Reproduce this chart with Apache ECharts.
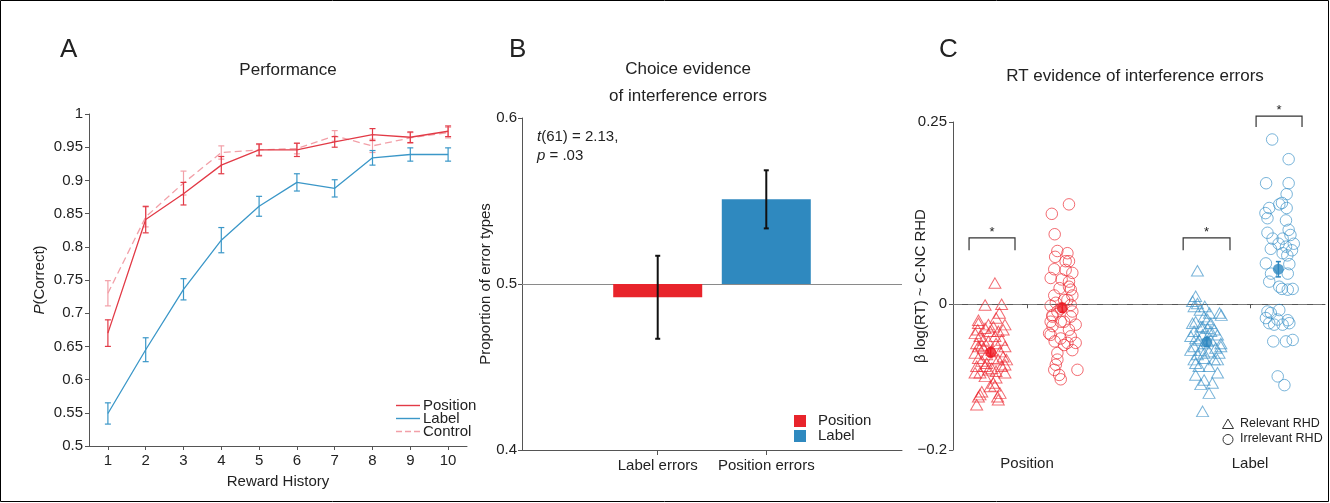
<!DOCTYPE html>
<html><head><meta charset="utf-8">
<script src="https://cdn.jsdelivr.net/npm/echarts@6/dist/echarts.min.js"></script>
<style>html,body{margin:0;padding:0;background:#fff}#c{width:1330px;height:503px}</style>
</head><body><div id="c"></div><script>
// ---------- Panel A data ----------
const rewardHistory = ['1','2','3','4','5','6','7','8','9','10'];
const positionMean = [0.670, 0.841, 0.880, 0.923, 0.946, 0.946, 0.958, 0.969, 0.965, 0.974];
const positionErr  = [0.020, 0.020, 0.017, 0.013, 0.009, 0.010, 0.008, 0.009, 0.008, 0.008];
const labelMean    = [0.549, 0.645, 0.736, 0.810, 0.861, 0.897, 0.888, 0.934, 0.939, 0.939];
const labelErr     = [0.016, 0.018, 0.016, 0.019, 0.015, 0.013, 0.013, 0.011, 0.010, 0.010];
const controlMean  = [0.730, 0.845, 0.896, 0.942, 0.946, 0.948, 0.967, 0.952, 0.964, 0.972];
const controlErr   = [0.019, 0.015, 0.018, 0.010, 0.008, 0.008, 0.008, 0.010, 0.008, 0.008];

// ---------- Panel B data ----------
const errorTypes = ['Label errors', 'Position errors'];
const proportion = [0.492, 0.551];
const proportionErr = [0.025, 0.0175];
const chanceLevel = 0.5;
const xCatsB = ['', '', errorTypes[0], '', errorTypes[1], '', ''];

// ---------- Panel C data ----------
const groupNames = ['Position', 'Label'];
const posRelevant = [[0.856,0.029],[0.812,-0.001],[0.886,0.000],[0.876,-0.012],[0.861,-0.019],[0.782,-0.022],[0.901,-0.028],[0.849,-0.031],[0.812,-0.033],[0.779,-0.035],[0.871,-0.037],[0.789,-0.044],[0.886,-0.049],[0.774,-0.054],[0.861,-0.054],[0.804,-0.060],[0.827,-0.051],[0.893,-0.072],[0.782,-0.074],[0.871,-0.076],[0.819,-0.081],[0.901,-0.083],[0.774,-0.085],[0.842,-0.088],[0.861,-0.092],[0.789,-0.094],[0.812,-0.099],[0.849,-0.108],[0.856,-0.112],[0.797,-0.120],[0.879,-0.122],[0.782,-0.127],[0.871,-0.131],[0.774,-0.138],[0.767,-0.040],[0.834,-0.037],[0.856,-0.044],[0.797,-0.056],[0.842,-0.063],[0.879,-0.065],[0.767,-0.067],[0.819,-0.069],[0.849,-0.074],[0.908,-0.076],[0.797,-0.078],[0.886,-0.085],[0.827,-0.090],[0.767,-0.094],[0.861,-0.101],[0.834,-0.113],[0.789,-0.124],[0.868,-0.127],[0.782,-0.026],[0.827,-0.028],[0.893,-0.035],[0.804,-0.049],[0.901,-0.058],[0.782,-0.058],[0.812,-0.085],[0.901,-0.094]];
const posIrrelevant = [[1.188,0.137],[1.111,0.124],[1.124,0.096],[1.136,0.073],[1.181,0.070],[1.126,0.065],[1.188,0.059],[1.122,0.048],[1.173,0.047],[1.203,0.043],[1.106,0.036],[1.155,0.034],[1.188,0.031],[1.146,0.022],[1.196,0.020],[1.203,0.012],[1.181,0.006],[1.129,0.002],[1.196,-0.001],[1.106,-0.002],[1.151,-0.006],[1.114,-0.015],[1.196,-0.017],[1.106,-0.024],[1.151,-0.024],[1.218,-0.028],[1.114,-0.030],[1.188,-0.035],[1.106,-0.042],[1.151,-0.047],[1.196,-0.044],[1.218,-0.053],[1.124,-0.051],[1.166,-0.056],[1.136,-0.067],[1.203,-0.063],[1.136,-0.076],[1.226,-0.090],[1.129,-0.083],[1.122,-0.090],[1.144,-0.097],[1.151,-0.103],[1.166,0.006],[1.203,-0.010],[1.122,0.012],[1.166,-0.024],[1.099,-0.040],[1.181,-0.053],[1.136,-0.010],[1.188,0.024],[1.173,0.059],[1.114,-0.017]];
const labRelevant = [[1.764,0.046],[1.756,0.011],[1.742,0.004],[1.764,0.001],[1.749,-0.003],[1.797,-0.003],[1.776,-0.008],[1.818,-0.012],[1.863,-0.012],[1.794,-0.017],[1.756,-0.024],[1.824,-0.026],[1.779,-0.031],[1.809,-0.033],[1.749,-0.037],[1.824,-0.037],[1.787,-0.042],[1.854,-0.042],[1.756,-0.047],[1.824,-0.049],[1.794,-0.054],[1.869,-0.054],[1.749,-0.058],[1.846,-0.060],[1.779,-0.063],[1.816,-0.065],[1.764,-0.069],[1.861,-0.067],[1.794,-0.074],[1.839,-0.076],[1.756,-0.081],[1.771,-0.085],[1.854,-0.094],[1.756,-0.097],[1.794,-0.104],[1.831,-0.108],[1.779,-0.110],[1.816,-0.122],[1.787,-0.147],[1.734,-0.044],[1.809,-0.051],[1.734,-0.063],[1.794,-0.067],[1.854,-0.076],[1.749,-0.076],[1.816,-0.085],[1.869,-0.058],[1.787,-0.031],[1.839,-0.035],[1.771,-0.049],[1.742,-0.026],[1.809,-0.021],[1.871,-0.015]];
const labIrrelevant = [[2.099,0.226],[2.173,0.199],[2.072,0.166],[2.173,0.166],[2.164,0.151],[2.131,0.137],[2.143,0.139],[2.086,0.132],[2.164,0.132],[2.069,0.125],[2.078,0.118],[2.161,0.115],[2.078,0.098],[2.173,0.102],[2.101,0.090],[2.146,0.090],[2.181,0.095],[2.196,0.083],[2.128,0.083],[2.093,0.076],[2.161,0.079],[2.188,0.074],[2.146,0.070],[2.167,0.067],[2.094,0.042],[2.169,0.042],[2.086,0.031],[2.131,0.024],[2.169,0.020],[2.191,0.021],[2.143,0.021],[2.078,-0.010],[2.093,-0.012],[2.131,-0.008],[2.071,-0.019],[2.123,-0.021],[2.169,-0.022],[2.086,-0.026],[2.108,-0.028],[2.146,-0.028],[2.176,-0.026],[2.104,-0.051],[2.161,-0.051],[2.191,-0.049],[2.124,-0.099],[2.154,-0.111],[2.071,0.056],[2.176,0.055]];
const groupCenters = [0.837, 1.158, 1.806, 2.127];
const meanRT = [-0.066, -0.005, -0.052, 0.048];
const meanRTErr = [0.006, 0.006, 0.006, 0.0105];
// brackets: [xLeft, xRight, yTop, yEnd]
const brackets = [[0.740, 0.946, 0.091, 0.074], [1.700, 1.910, 0.091, 0.074], [2.027, 2.233, 0.258, 0.243]];

// ---------- styles ----------
const FONT = '"Liberation Sans", Arial, Helvetica, sans-serif';
const TXT = '#222';
const AX = '#555';
const colPos = '#e23a46', colLab = '#3b97c8', colCtl = '#f2a0a8';
const redBar = '#e8242b', blueBar = '#2f89bf';
const redPt = 'rgba(236,40,48,0.85)', bluePt = 'rgba(58,145,200,0.85)';
const redMean = '#ee1c25', blueMean = '#2f88c0';

function errRender(color, lw, cap) {
  return function (params, api) {
    const x = api.value(0), m = api.value(1), e = api.value(2);
    const t = api.coord([x, m + e]), b = api.coord([x, m - e]);
    const st = { stroke: color, lineWidth: lw };
    return { type: 'group', children: [
      { type: 'line', shape: { x1: t[0], y1: t[1], x2: b[0], y2: b[1] }, style: st },
      { type: 'line', shape: { x1: t[0] - cap, y1: t[1], x2: t[0] + cap, y2: t[1] }, style: st },
      { type: 'line', shape: { x1: b[0] - cap, y1: b[1], x2: b[0] + cap, y2: b[1] }, style: st }
    ]};
  };
}
function barRender(color) {
  return function (params, api) {
    const x = api.value(0), v = api.value(1), e = api.value(2);
    const p0 = api.coord([x, chanceLevel]), p1 = api.coord([x, v]);
    const hw = 44.5;
    const t = api.coord([x, v + e]), b = api.coord([x, v - e]);
    const st = { stroke: '#111', lineWidth: 2 };
    return { type: 'group', children: [
      { type: 'rect', shape: { x: p0[0] - hw, y: Math.min(p0[1], p1[1]), width: 2 * hw, height: Math.abs(p1[1] - p0[1]) }, style: { fill: color } },
      { type: 'line', shape: { x1: t[0], y1: t[1], x2: b[0], y2: b[1] }, style: st },
      { type: 'line', shape: { x1: t[0] - 2.5, y1: t[1], x2: t[0] + 2.5, y2: t[1] }, style: st },
      { type: 'line', shape: { x1: b[0] - 2.5, y1: b[1], x2: b[0] + 2.5, y2: b[1] }, style: st }
    ]};
  };
}
function zip3(a, b, c) { return a.map((v, i) => [i, b[i], c[i]]); }

const tickStyle = { fontSize: 15, color: TXT, fontFamily: FONT };
const axLine = { show: true, lineStyle: { color: AX, width: 1 } };
const axTick = { show: true, length: 4, lineStyle: { color: AX } };
const nameStyle = { fontSize: 15, color: TXT, fontFamily: FONT };

const option = {
  animation: false,
  backgroundColor: '#fff',
  textStyle: { fontFamily: FONT },
  title: [
    { text: 'A', left: 55, top: 32, textStyle: { fontSize: 26, fontWeight: 'normal', color: TXT, fontFamily: FONT } },
    { text: 'B', left: 504, top: 32, textStyle: { fontSize: 26, fontWeight: 'normal', color: TXT, fontFamily: FONT } },
    { text: 'C', left: 934, top: 32, textStyle: { fontSize: 26, fontWeight: 'normal', color: TXT, fontFamily: FONT } },
    { text: 'Performance', left: 283, top: 57, textAlign: 'center', textStyle: { fontSize: 17, fontWeight: 'normal', color: TXT, fontFamily: FONT } },
    { text: 'Choice evidence\nof interference errors', left: 683, top: 51, textAlign: 'center', textStyle: { fontSize: 17, fontWeight: 'normal', color: TXT, fontFamily: FONT, lineHeight: 27 } },
    { text: 'RT evidence of interference errors', left: 1130, top: 63, textAlign: 'center', textStyle: { fontSize: 17, fontWeight: 'normal', color: TXT, fontFamily: FONT } }
  ],
  legend: [{
    data: [
      { name: 'Position', icon: 'path://M0 0H24V1.4H0Z' },
      { name: 'Label', icon: 'path://M0 0H24V1.4H0Z' },
      { name: 'Control', icon: 'path://M0 0H6V1.4H0Z M9 0H15V1.4H9Z M18 0H24V1.4H18Z' }
    ],
    orient: 'vertical', left: 396, top: 398, padding: 0,
    itemWidth: 24, itemHeight: 1.4, itemGap: -2,
    textStyle: { fontSize: 15, color: TXT, fontFamily: FONT, padding: [0, 0, 0, -2] },
    selectedMode: false
  }],
  grid: [
    { left: 89, top: 114, width: 378, height: 332 },
    { left: 522, top: 118, width: 380, height: 332 },
    { left: 953, top: 122, width: 372, height: 328 }
  ],
  xAxis: [
    { type: 'category', gridIndex: 0, data: rewardHistory, boundaryGap: true,
      axisLine: axLine, axisTick: Object.assign({ alignWithLabel: true }, axTick),
      axisLabel: Object.assign({ margin: 7 }, tickStyle), splitLine: { show: false },
      name: 'Reward History', nameLocation: 'middle', nameGap: 28, nameMoveOverlap: false,
      nameTextStyle: nameStyle },
    { type: 'category', gridIndex: 1, data: xCatsB, boundaryGap: true,
      axisLine: axLine,
      axisTick: { show: true, length: 5, alignWithLabel: true, interval: (i, v) => v !== '', lineStyle: { color: AX } },
      axisLabel: Object.assign({ margin: 8, interval: 0 }, tickStyle), splitLine: { show: false } },
    { type: 'value', gridIndex: 2, min: 0.668, max: 2.336,
      axisLine: axLine, axisTick: Object.assign({ customValues: [1, 2] }, axTick),
      axisLabel: Object.assign({ margin: 6, customValues: [1, 2], formatter: v => groupNames[Math.round(v) - 1] }, tickStyle),
      splitLine: { show: false } }
  ],
  yAxis: [
    { type: 'value', gridIndex: 0, min: 0.5, max: 1, interval: 0.05,
      axisLine: axLine, axisTick: axTick, axisLabel: Object.assign({ margin: 6 }, tickStyle), splitLine: { show: false },
      name: '{i|P}(Correct)', nameLocation: 'middle', nameGap: 42, nameMoveOverlap: false,
      nameTextStyle: Object.assign({ rich: { i: { fontStyle: 'italic', fontSize: 15, color: TXT, fontFamily: FONT } } }, nameStyle) },
    { type: 'value', gridIndex: 1, min: 0.4, max: 0.6, interval: 0.1,
      axisLine: axLine, axisTick: axTick, axisLabel: Object.assign({ margin: 5 }, tickStyle), splitLine: { show: false },
      name: 'Proportion of error types', nameLocation: 'middle', nameGap: 29, nameMoveOverlap: false,
      nameTextStyle: nameStyle },
    { type: 'value', gridIndex: 2, min: -0.2, max: 0.25,
      axisLine: axLine, axisTick: Object.assign({ customValues: [-0.2, 0, 0.25] }, axTick),
      axisLabel: Object.assign({ margin: 6, customValues: [-0.2, 0, 0.25], formatter: v => (v < 0 ? '\u2212' + String(-v) : String(v)) }, tickStyle),
      splitLine: { show: false },
      name: '\u03b2 log(RT) ~ C-NC RHD', nameLocation: 'middle', nameGap: 25, nameMoveOverlap: false,
      nameTextStyle: nameStyle }
  ],
  series: [
    // Panel A
    { name: 'Position', type: 'line', xAxisIndex: 0, yAxisIndex: 0, data: positionMean, symbol: 'none',
      lineStyle: { color: colPos, width: 1.3 }, itemStyle: { color: colPos }, z: 4 },
    { name: 'Label', type: 'line', xAxisIndex: 0, yAxisIndex: 0, data: labelMean, symbol: 'none',
      lineStyle: { color: colLab, width: 1.3 }, itemStyle: { color: colLab }, z: 4 },
    { name: 'Control', type: 'line', xAxisIndex: 0, yAxisIndex: 0, data: controlMean, symbol: 'none',
      lineStyle: { color: colCtl, width: 1.3, type: [7, 4] }, itemStyle: { color: colCtl }, z: 3 },
    { name: 'PositionSE', type: 'custom', xAxisIndex: 0, yAxisIndex: 0, data: zip3(rewardHistory, positionMean, positionErr), renderItem: errRender(colPos, 1.2, 3), z: 4 },
    { name: 'LabelSE', type: 'custom', xAxisIndex: 0, yAxisIndex: 0, data: zip3(rewardHistory, labelMean, labelErr), renderItem: errRender(colLab, 1.2, 3), z: 4 },
    { name: 'ControlSE', type: 'custom', xAxisIndex: 0, yAxisIndex: 0, data: zip3(rewardHistory, controlMean, controlErr), renderItem: errRender(colCtl, 1.2, 3), z: 3 },
    // Panel B
    { name: 'B Position', type: 'custom', xAxisIndex: 1, yAxisIndex: 1,
      data: [[xCatsB.indexOf(errorTypes[0]), proportion[0], proportionErr[0]]], renderItem: barRender(redBar), z: 2 },
    { name: 'B Label', type: 'custom', xAxisIndex: 1, yAxisIndex: 1,
      data: [[xCatsB.indexOf(errorTypes[1]), proportion[1], proportionErr[1]]], renderItem: barRender(blueBar), z: 2,
      markLine: { silent: true, symbol: 'none', label: { show: false }, lineStyle: { color: '#8a8a8a', width: 1, type: 'solid' },
        data: [{ yAxis: chanceLevel }], z: 1 } },
    // Panel C
    { name: 'Position relevant', type: 'scatter', xAxisIndex: 2, yAxisIndex: 2, data: posRelevant,
      symbol: 'triangle', symbolSize: [12, 10.5], itemStyle: { color: 'rgba(0,0,0,0)', borderColor: redPt, borderWidth: 1 }, z: 2,
      markLine: { silent: true, symbol: 'none', label: { show: false }, lineStyle: { color: '#7a7a7a', width: 1.2, type: [9, 6] },
        data: [{ yAxis: 0 }] } },
    { name: 'Position irrelevant', type: 'scatter', xAxisIndex: 2, yAxisIndex: 2, data: posIrrelevant,
      symbol: 'circle', symbolSize: 11.5, itemStyle: { color: 'rgba(0,0,0,0)', borderColor: redPt, borderWidth: 1 }, z: 2 },
    { name: 'Label relevant', type: 'scatter', xAxisIndex: 2, yAxisIndex: 2, data: labRelevant,
      symbol: 'triangle', symbolSize: [12, 10.5], itemStyle: { color: 'rgba(0,0,0,0)', borderColor: bluePt, borderWidth: 1 }, z: 2 },
    { name: 'Label irrelevant', type: 'scatter', xAxisIndex: 2, yAxisIndex: 2, data: labIrrelevant,
      symbol: 'circle', symbolSize: 11.5, itemStyle: { color: 'rgba(0,0,0,0)', borderColor: bluePt, borderWidth: 1 }, z: 2 },
    { name: 'MeanSE', type: 'custom', xAxisIndex: 2, yAxisIndex: 2,
      data: groupCenters.map((x, i) => [x, meanRT[i], meanRTErr[i], i]),
      renderItem: function (params, api) {
        return errRender(api.value(3) < 2 ? redMean : blueMean, 1.5, 2.5)(params, api);
      }, z: 5 },
    { name: 'Means', type: 'scatter', xAxisIndex: 2, yAxisIndex: 2,
      data: groupCenters.map((x, i) => ({ value: [x, meanRT[i]], itemStyle: { color: i < 2 ? redMean : blueMean } })),
      symbol: 'circle', symbolSize: 11, z: 6 },
    { name: 'Brackets', type: 'custom', xAxisIndex: 2, yAxisIndex: 2, clip: false, data: brackets, z: 5,
      renderItem: function (params, api) {
        const x1 = api.value(0), x2 = api.value(1), yt = api.value(2), yb = api.value(3);
        const a = api.coord([x1, yb]), b = api.coord([x1, yt]), c = api.coord([x2, yt]), d = api.coord([x2, yb]);
        return { type: 'group', children: [
          { type: 'polyline', shape: { points: [a, b, c, d] }, style: { stroke: '#333', lineWidth: 1.2, fill: null } },
          { type: 'text', style: { text: '*', x: (b[0] + c[0]) / 2, y: b[1] + 1, align: 'center', verticalAlign: 'bottom', fontSize: 13, fill: TXT, fontFamily: FONT } }
        ]};
      } }
  ],
  graphic: [
    { type: 'rect', shape: { x: 0.5, y: 0.5, width: 1328, height: 501 }, style: { fill: null, stroke: '#000', lineWidth: 1 }, silent: true },
    // Panel B annotation
    { type: 'text', left: 537, top: 127, style: { text: '{i|t}(61) = 2.13,\n{i|p} = .03', fontSize: 15, lineHeight: 19, fill: TXT, fontFamily: FONT,
      rich: { i: { fontStyle: 'italic', fontSize: 15, fill: TXT, fontFamily: FONT } } } },
    // Panel B legend
    { type: 'rect', shape: { x: 794, y: 415, width: 12, height: 12 }, style: { fill: redBar } },
    { type: 'rect', shape: { x: 794, y: 430, width: 12, height: 12 }, style: { fill: blueBar } },
    { type: 'text', x: 818, y: 421, style: { text: 'Position', fontSize: 15, fill: TXT, fontFamily: FONT, verticalAlign: 'middle' } },
    { type: 'text', x: 818, y: 436, style: { text: 'Label', fontSize: 15, fill: TXT, fontFamily: FONT, verticalAlign: 'middle' } },
    // Panel C legend
    { type: 'polygon', shape: { points: [[1222.5, 428.5], [1233.5, 428.5], [1228, 419]] }, style: { fill: null, stroke: '#333', lineWidth: 1 } },
    { type: 'circle', shape: { cx: 1228, cy: 439.5, r: 5 }, style: { fill: null, stroke: '#333', lineWidth: 1 } },
    { type: 'text', x: 1240, y: 424, style: { text: 'Relevant RHD', fontSize: 12.5, fill: TXT, fontFamily: FONT, verticalAlign: 'middle' } },
    { type: 'text', x: 1240, y: 439, style: { text: 'Irrelevant RHD', fontSize: 12.5, fill: TXT, fontFamily: FONT, verticalAlign: 'middle' } }
  ]
};

const chart = echarts.init(document.getElementById('c'), null, { renderer: 'canvas' });
chart.setOption(option);
</script></body></html>
